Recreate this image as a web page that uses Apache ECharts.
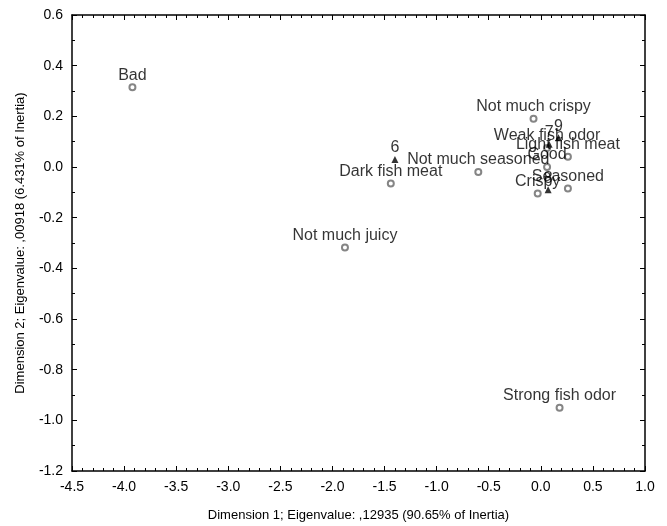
<!DOCTYPE html>
<html lang="EN">
<head>
    <meta charset="utf-8">
    <script src="https://cdn.jsdelivr.net/npm/echarts@6/dist/echarts.min.js"></script>
</head>
<body>
<style>
    body {
        background: #fff;
        margin: 0;
    }
    #main {
        width: 667px;
        height: 526px;
    }
</style>

<div id="main"></div>

<script>
    // row points (attributes), open circles
    var attrNames = ['Bad', 'Not much juicy', 'Dark fish meat', 'Not much seasoned', 'Not much crispy',
        'Weak fish odor', 'Light fish meat', 'Good', 'Seasoned', 'Crispy', 'Strong fish odor'];
    var attrX = [-3.92, -1.88, -1.44, -0.60, -0.07, 0.06, 0.26, 0.06, 0.26, -0.03, 0.18];
    var attrY = [0.315, -0.318, -0.065, -0.02, 0.19, 0.075, 0.04, 0.0, -0.085, -0.105, -0.95];

    // column points (samples), filled triangles
    var sampleNames = ['6', '7', '9', '8'];
    var sampleX = [-1.40, 0.08, 0.17, 0.07];
    var sampleY = [0.03, 0.09, 0.115, -0.09];

    var xTitle = 'Dimension 1; Eigenvalue: ,12935 (90.65% of Inertia)';
    var yTitle = 'Dimension 2; Eigenvalue: ,00918 (6.431% of Inertia)';

    function points(names, xs, ys) {
        var out = [];
        for (var i = 0; i < names.length; i++) {
            out.push({name: names[i], value: [xs[i], ys[i]]});
        }
        return out;
    }

    var font = 'Arial, "Liberation Sans", sans-serif';
    var frameLine = {show: true, onZero: false, lineStyle: {color: '#000', width: 1.5}};
    var pointLabel = {
        show: true,
        position: 'top',
        distance: 0,
        formatter: '{b}',
        color: '#000',
        fontSize: 16,
        fontFamily: font
    };

    var chart = echarts.init(document.getElementById('main'), null, {renderer: 'canvas'});
    chart.setOption({
        animation: false,
        grid: {left: 72, right: 22, top: 15, bottom: 55, outerBoundsMode: 'none', containLabel: false},
        xAxis: [{
            type: 'value',
            min: -4.5,
            max: 1.0,
            interval: 0.5,
            name: xTitle,
            nameLocation: 'middle',
            nameGap: 38,
            nameTextStyle: {color: '#000', fontSize: 13, fontFamily: font},
            axisLine: frameLine,
            axisTick: {inside: true, length: 5, lineStyle: {color: '#000'}},
            minorTick: {show: true, splitNumber: 5, length: 3, lineStyle: {color: '#000'}},
            axisLabel: {color: '#000', fontSize: 14, fontFamily: font, margin: 9,
                formatter: function (v) { return v.toFixed(1); }},
            splitLine: {show: false}
        }, {
            type: 'value',
            position: 'top',
            min: -4.5,
            max: 1.0,
            interval: 0.5,
            axisLine: frameLine,
            axisTick: {inside: true, length: 5, lineStyle: {color: '#000'}},
            minorTick: {show: true, splitNumber: 5, length: 3, lineStyle: {color: '#000'}},
            axisLabel: {show: false},
            splitLine: {show: false}
        }],
        yAxis: [{
            type: 'value',
            min: -1.2,
            max: 0.6,
            interval: 0.2,
            name: yTitle,
            nameLocation: 'middle',
            nameGap: 45,
            nameTextStyle: {color: '#000', fontSize: 13, fontFamily: font},
            axisLine: frameLine,
            axisTick: {inside: true, length: 5, lineStyle: {color: '#000'}},
            minorTick: {show: true, splitNumber: 2, length: 3, lineStyle: {color: '#000'}},
            axisLabel: {color: '#000', fontSize: 14, fontFamily: font, margin: 9,
                formatter: function (v) { return v.toFixed(1); }},
            splitLine: {show: false}
        }, {
            type: 'value',
            position: 'right',
            min: -1.2,
            max: 0.6,
            interval: 0.2,
            axisLine: frameLine,
            axisTick: {inside: true, length: 5, lineStyle: {color: '#000'}},
            minorTick: {show: true, splitNumber: 2, length: 3, lineStyle: {color: '#000'}},
            axisLabel: {show: false},
            splitLine: {show: false}
        }],
        series: [{
            type: 'scatter',
            symbol: 'emptyCircle',
            symbolSize: 6,
            itemStyle: {color: '#666', borderWidth: 0.8},
            label: pointLabel,
            data: points(attrNames, attrX, attrY)
        }, {
            type: 'scatter',
            symbol: 'triangle',
            symbolSize: 7,
            itemStyle: {color: '#000'},
            label: pointLabel,
            data: points(sampleNames, sampleX, sampleY)
        }]
    });
</script>

</body>
</html>
